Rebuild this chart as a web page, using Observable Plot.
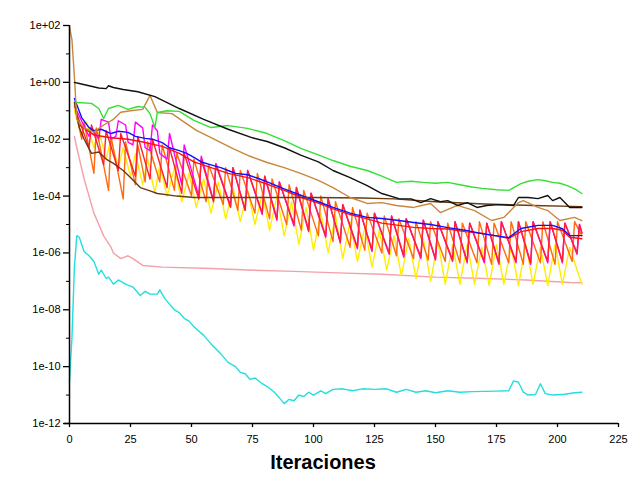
<!DOCTYPE html>
<html><head><meta charset="utf-8">
<script src="https://cdn.jsdelivr.net/npm/d3@7"></script>
<script src="https://cdn.jsdelivr.net/npm/@observablehq/plot@0.6"></script>
<style>
body{margin:0;background:#fff;}
#chart svg{font-family:"Liberation Sans",Arial,sans-serif;}
</style>
</head><body><div id="chart"></div>
<script>
// x ticks / y ticks
const xTicks = [0,25,50,75,100,125,150,175,200,225];
const yTicks = [1e2,1e0,1e-2,1e-4,1e-6,1e-8,1e-10,1e-12];
const yTickLabels = ["1e+02","1e+00","1e-02","1e-04","1e-06","1e-08","1e-10","1e-12"];
const yMinorTicks = [1e1,1e-1,1e-3,1e-5,1e-7,1e-9,1e-11];
const xLabel = "Iteraciones";

// series: [iteration, log10(value)]
const black = [[2,0],[4,-0.04],[8,-0.12],[12,-0.2],[15,-0.22],[16,-0.12],[18,-0.18],[22,-0.25],[28,-0.33],[35,-0.5],[45,-0.92],[55,-1.3],[65,-1.65],[75,-1.95],[81,-2.08],[88,-2.3],[95,-2.57],[102,-2.8],[108,-3.1],[115,-3.35],[122,-3.63],[128,-3.91],[135,-4.09],[140,-4.1],[144,-4.23],[148,-4.09],[152,-4.2],[155,-4.16],[159,-4.33],[163,-4.23],[167,-4.4],[171,-4.33],[176,-4.3],[182,-4.33],[184,-4.05],[188,-4.05],[192,-4.09],[196,-3.98],[198,-4.16],[201,-4.05],[205,-4.4],[210,-4.4]];
const green = [[3,-0.71],[9,-0.74],[12,-0.92],[14,-1.27],[16,-0.92],[20,-0.81],[24,-0.95],[28,-0.85],[31,-0.88],[33,-1.1],[35,-1.59],[36,-1.06],[40,-1.0],[45,-1.02],[51,-1.34],[58,-1.59],[65,-1.52],[73,-1.62],[81,-1.8],[88,-2.05],[95,-2.33],[102,-2.55],[108,-2.75],[115,-2.95],[122,-3.1],[128,-3.3],[134,-3.52],[140,-3.48],[145,-3.52],[150,-3.55],[155,-3.52],[160,-3.6],[165,-3.68],[169,-3.73],[175,-3.78],[180,-3.8],[185,-3.56],[188,-3.48],[192,-3.42],[195,-3.46],[198,-3.52],[201,-3.55],[204,-3.63],[207,-3.75],[210,-3.91]];
const tan = [[0,1.95],[1,1.5],[2,0.2],[3,-1.3],[6,-1.6],[10,-1.75],[14,-1.5],[18,-1.3],[21,-1.05],[25,-1.0],[30,-0.95],[33,-0.46],[36,-1.06],[42,-1.1],[47,-1.4],[52,-1.69],[58,-1.94],[67,-2.33],[74,-2.6],[81,-2.82],[88,-3.0],[95,-3.21],[102,-3.45],[108,-3.7],[115,-4.05],[122,-4.26],[128,-4.23],[134,-4.33],[141,-4.4],[148,-4.26],[152,-4.58],[159,-4.33],[166,-4.51],[173,-4.86],[178,-4.75],[184,-4.23],[186,-4.16],[192,-4.4],[196,-4.51],[201,-4.86],[207,-4.75],[210,-4.86]];
const darkBrown = [[2,-0.7],[4,-1.59],[6,-2.0],[9,-2.5],[12,-2.45],[15,-2.7],[18,-2.85],[22,-3.1],[25,-3.35],[29,-3.7],[33,-3.82],[36,-3.91],[44,-4.0],[51,-4.05],[62,-4.05],[80,-4.05],[100,-4.05],[120,-4.07],[133,-4.1],[150,-4.2],[170,-4.28],[190,-4.33],[210,-4.37]];
const blue = [[2,-0.57],[5,-1.24],[8,-1.59],[10,-1.7],[13,-1.65],[17,-1.8],[20,-1.72],[24,-1.76],[27,-1.9],[31,-1.97],[34,-2.0],[38,-2.12],[41,-2.3],[45,-2.4],[48,-2.5],[51,-2.64],[54,-2.8],[58,-2.9],[62,-3.0],[65,-3.1],[68,-3.2],[73,-3.25],[78,-3.4],[81,-3.5],[88,-3.75],[95,-3.98],[102,-4.2],[108,-4.4],[115,-4.6],[122,-4.75],[128,-4.79],[135,-4.86],[141,-4.93],[148,-5.0],[155,-5.11],[162,-5.2],[169,-5.32],[175,-5.4],[180,-5.46],[185,-5.14],[192,-5.03],[198,-5.03],[202,-5.15],[205,-5.39],[210,-5.39]];
const redSmooth = [[4,-1.5],[10,-1.85],[17,-1.95],[24,-2.0],[30,-2.1],[38,-2.25],[45,-2.5],[51,-2.8],[58,-3.0],[65,-3.2],[73,-3.35],[80,-3.55],[88,-3.8],[95,-4.05],[102,-4.25],[108,-4.45],[115,-4.65],[122,-4.8],[128,-4.95],[135,-5.03],[141,-5.1],[148,-5.14],[155,-5.16],[162,-5.25],[168,-5.3],[175,-5.4],[180,-5.49],[185,-5.25],[192,-5.14],[198,-5.14],[202,-5.2],[205,-5.45],[210,-5.5]];
const magenta = [[3,-1.0],[8,-1.9],[9,-1.6],[12,-2.0],[13,-1.3],[16,-1.4],[17,-2.0],[19,-1.9],[20,-1.35],[23,-1.5],[24,-2.1],[26,-2.2],[27,-1.4],[30,-1.6],[31,-2.3],[33,-2.4],[34,-1.5],[36,-1.7],[37,-2.5],[40,-2.7],[41,-1.8],[46,-3.6],[47,-2.2],[53,-4.0],[54,-2.6],[59,-4.15],[60,-2.85],[66,-4.35],[67,-3.0],[72,-4.5],[73,-3.1],[79,-4.65],[80,-3.3],[85,-4.85],[86,-3.5],[92,-5.05],[93,-3.7],[98,-5.25],[99,-3.9],[105,-5.45],[106,-4.1],[111,-5.65],[112,-4.3],[118,-5.85],[119,-4.5],[124,-5.95],[125,-4.6],[131,-6.05],[132,-4.7],[137,-6.15],[138,-4.8],[144,-6.2],[145,-4.85],[150,-6.25],[151,-4.9],[157,-6.3],[158,-4.9],[163,-6.35],[164,-4.95],[170,-6.35],[171,-4.95],[176,-6.4],[177,-4.9],[183,-6.35],[184,-4.9],[189,-6.4],[190,-4.9],[196,-6.35],[197,-4.9],[202,-6.35],[203,-4.95],[208,-6.05],[209,-5.0],[210,-5.3]];
const redZig = [[3,-1.1],[8,-2.3],[9,-1.5],[14,-2.9],[15,-1.7],[20,-3.1],[21,-1.8],[27,-3.3],[28,-1.9],[33,-3.4],[34,-2.0],[40,-3.7],[41,-2.3],[46,-3.9],[47,-2.5],[53,-4.1],[54,-2.7],[59,-4.2],[60,-2.9],[66,-4.4],[67,-3.0],[72,-4.5],[73,-3.1],[79,-4.6],[80,-3.3],[85,-4.8],[86,-3.5],[92,-5.0],[93,-3.7],[98,-5.2],[99,-3.9],[105,-5.4],[106,-4.1],[111,-5.6],[112,-4.3],[118,-5.8],[119,-4.5],[124,-5.9],[125,-4.6],[131,-6.0],[132,-4.7],[137,-6.1],[138,-4.8],[144,-6.15],[145,-4.85],[150,-6.2],[151,-4.9],[157,-6.25],[158,-4.9],[163,-6.3],[164,-4.95],[170,-6.3],[171,-4.95],[176,-6.35],[177,-4.9],[183,-6.3],[184,-4.9],[189,-6.35],[190,-4.9],[196,-6.3],[197,-4.9],[202,-6.3],[203,-4.95],[208,-6.0],[209,-5.0],[210,-5.3]];
const orange = [[2,-0.8],[5,-2.0],[6,-1.4],[10,-3.2],[11,-1.6],[16,-3.8],[17,-1.9],[22,-4.1],[23,-2.1],[27,-3.6],[28,-2.2],[31,-3.5],[32,-2.1],[37,-3.5],[38,-2.2],[43,-3.8],[44,-2.5],[50,-4.0],[51,-2.7],[56,-4.2],[57,-2.9],[63,-4.3],[64,-3.0],[69,-4.5],[70,-3.1],[76,-4.6],[77,-3.2],[82,-4.8],[83,-3.4],[89,-5.0],[90,-3.6],[95,-5.2],[96,-3.8],[102,-5.4],[103,-4.0],[108,-5.6],[109,-4.2],[115,-5.8],[116,-4.4],[121,-5.9],[122,-4.6],[128,-6.0],[129,-4.7],[134,-6.1],[135,-4.8],[141,-6.2],[142,-4.9],[147,-6.25],[148,-4.9],[154,-6.3],[155,-4.95],[160,-6.35],[161,-4.95],[167,-6.35],[168,-4.9],[173,-6.4],[174,-4.95],[180,-6.35],[181,-4.9],[186,-6.4],[187,-4.9],[193,-6.35],[194,-4.9],[199,-6.4],[200,-4.9],[206,-6.3],[207,-4.9],[210,-5.4]];
const yellow = [[2,-1.0],[5,-1.9],[7,-1.4],[10,-2.3],[12,-1.7],[15,-2.7],[17,-2.0],[20,-3.0],[22,-2.3],[25,-3.3],[27,-2.5],[30,-3.6],[32,-2.7],[35,-3.9],[37,-2.9],[40,-4.0],[43,-3.0],[46,-4.2],[49,-3.2],[52,-4.4],[55,-3.4],[58,-4.6],[61,-3.5],[64,-4.8],[67,-3.7],[70,-4.9],[73,-3.8],[76,-5.0],[79,-3.9],[82,-5.2],[85,-4.0],[88,-5.4],[91,-4.2],[94,-5.7],[97,-4.4],[100,-5.9],[103,-4.6],[106,-6.0],[109,-4.7],[112,-6.2],[115,-4.9],[118,-6.3],[121,-5.1],[124,-6.5],[127,-5.2],[130,-6.6],[133,-5.4],[136,-6.8],[139,-5.5],[142,-6.9],[145,-5.5],[148,-7.0],[151,-5.6],[154,-7.1],[157,-5.7],[160,-7.1],[163,-5.7],[166,-7.1],[169,-5.8],[172,-7.15],[175,-5.7],[178,-7.1],[181,-5.8],[184,-7.15],[187,-5.7],[190,-7.1],[193,-5.8],[196,-7.15],[199,-5.7],[202,-7.1],[205,-5.8],[208,-6.6],[210,-7.1]];
const pink = [[2,-1.9],[3,-2.3],[6,-3.4],[10,-4.6],[14,-5.4],[17,-5.8],[18,-6.0],[21,-6.2],[24,-6.1],[26,-6.2],[30,-6.44],[38,-6.5],[58,-6.55],[73,-6.6],[92,-6.65],[110,-6.7],[128,-6.75],[150,-6.85],[170,-6.9],[187,-6.95],[205,-7.04],[210,-7.05]];
const cyan = [[0,-10.5],[1,-9.0],[2,-6.5],[3,-5.39],[4,-5.45],[5,-5.7],[6,-5.95],[8,-6.1],[10,-6.3],[12,-6.75],[13,-6.6],[15,-6.9],[16,-6.85],[18,-7.1],[20,-6.95],[23,-7.1],[26,-7.2],[29,-7.5],[31,-7.35],[33,-7.45],[36,-7.45],[37,-7.3],[39,-7.6],[41,-7.8],[43,-8.0],[45,-8.1],[47,-8.3],[49,-8.4],[51,-8.6],[55,-8.9],[58,-9.2],[62,-9.55],[65,-9.85],[68,-10.0],[70,-10.2],[72,-10.25],[74,-10.45],[76,-10.4],[79,-10.6],[81,-10.7],[84,-10.9],[86,-11.1],[88,-11.3],[90,-11.15],[92,-11.2],[94,-11.0],[96,-11.05],[98,-10.9],[100,-11.0],[103,-10.85],[105,-10.95],[108,-10.8],[112,-10.78],[116,-10.85],[120,-10.78],[125,-10.8],[130,-10.78],[134,-10.9],[138,-10.8],[142,-10.9],[146,-10.85],[150,-10.92],[155,-10.85],[160,-10.9],[165,-10.88],[170,-10.87],[175,-10.86],[180,-10.85],[182,-10.5],[184,-10.55],[186,-10.9],[188,-11.0],[191,-10.98],[193,-10.6],[195,-10.95],[198,-11.0],[203,-10.97],[207,-10.92],[210,-10.9]];

const seriesList = [
  {name:"cyan", color:"#22dede", pts:cyan},
  {name:"pink", color:"#f4a0a8", pts:pink},
  {name:"yellow", color:"#ffee00", pts:yellow},
  {name:"orange", color:"#ff6a10", pts:orange},
  {name:"magenta", color:"#ff00ff", pts:magenta},
  {name:"redZig", color:"#ff2030", pts:redZig},
  {name:"redSmooth", color:"#ff1010", pts:redSmooth},
  {name:"blue", color:"#1010ff", pts:blue},
  {name:"darkBrown", color:"#6b3a10", pts:darkBrown},
  {name:"tan", color:"#c8873a", pts:tan},
  {name:"green", color:"#33e033", pts:green},
  {name:"black", color:"#111111", pts:black}
];
const rows = seriesList.flatMap(s => s.pts.map(([it, e]) => ({s: s.name, c: s.color, x: it, y: Math.pow(10, e)})));

const chart = Plot.plot({
  width: 636, height: 483,
  marginLeft: 69, marginRight: 18, marginTop: 25, marginBottom: 60,
  x: {type: "linear", domain: [0, 225]},
  y: {type: "log", domain: [1e-12, 1e2]},
  marks: [
    Plot.line(rows, {x: "x", y: "y", z: "s", stroke: "c", strokeWidth: 1.4}),
    Plot.ruleX([0], {stroke: "#000", strokeWidth: 1.5}),
    Plot.ruleY([1e-12], {x1: -2, x2: 225, stroke: "#000", strokeWidth: 1.5}),
    Plot.axisY(yTicks, {tickSize: 6, tickPadding: 3, fontSize: 11, stroke: "#000", strokeWidth: 1.3, tickFormat: d => yTickLabels[yTicks.indexOf(d)], label: null}),
    Plot.axisY(yMinorTicks, {tickSize: 3, tickPadding: 0, stroke: "#000", strokeWidth: 1, tickFormat: () => "", label: null}),
    Plot.axisX(xTicks, {tickSize: 4, tickPadding: 8, fontSize: 11, stroke: "#000", strokeWidth: 1.3, label: null}),
    Plot.text([xLabel], {frameAnchor: "bottom", dx: -21, dy: 45, fontSize: 20, fontWeight: "bold", fontFamily: "'Liberation Sans Narrow','Arial Narrow','Liberation Sans',sans-serif", fill: "#000"})
  ]
});
document.getElementById("chart").appendChild(chart);
</script>
</body></html>
